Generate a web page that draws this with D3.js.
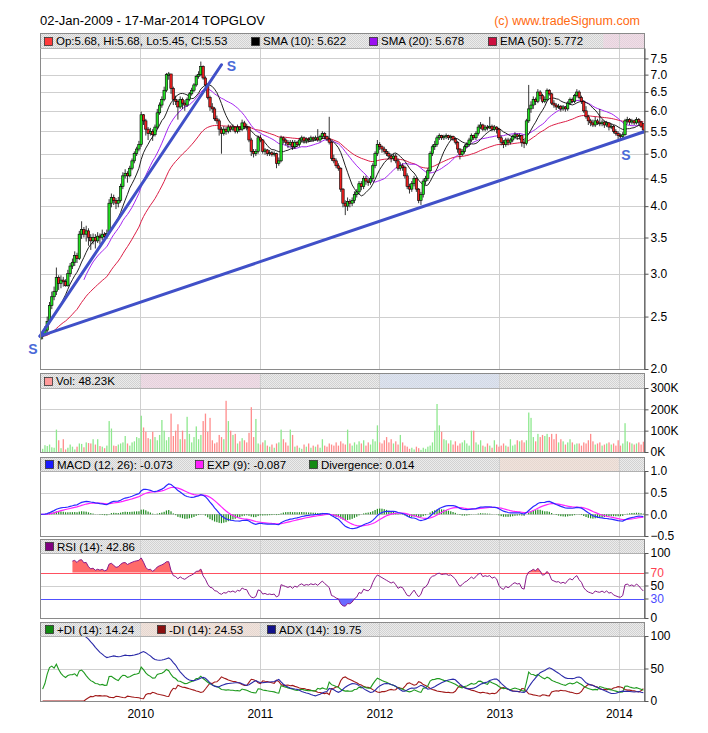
<!DOCTYPE html>
<html>
<head>
<meta charset="utf-8">
<script src="https://cdn.jsdelivr.net/npm/d3@7"></script>
<style>
body { margin: 0; background: #fff; }
svg { display: block; font-family: "Liberation Sans", Arial, sans-serif; }
</style>
</head>
<body>
<div id="chart"></div>
<script>
// weekly candles TOPGLOV, Mar 2009 - Mar 2014
const opens = [
 2.27,2.30,2.32,2.36,2.45,2.62,2.72,2.78,2.95,2.88, 2.92,2.90,2.85,3.00,3.10,3.15,3.24,3.20,3.55,3.62,
 3.55,3.60,3.50,3.45,3.50,3.45,3.52,3.50,3.55,3.52, 3.58,4.05,4.15,4.10,4.05,4.10,4.35,4.55,4.60,4.55,
 4.70,4.85,5.00,5.10,5.20,5.90,5.75,5.55,5.45,5.50, 5.42,5.60,5.95,6.15,6.30,6.55,6.98,7.02,6.60,6.30,
 6.25,6.10,6.30,6.20,6.15,6.30,6.45,6.55,6.70,6.95, 7.00,7.25,6.90,6.70,6.35,6.10,6.05,5.80,5.75,5.55,
 5.45,5.55,5.50,5.60,5.55,5.60,5.50,5.60,5.55,5.70, 5.62,5.60,5.30,5.05,5.00,5.05,5.35,5.30,5.05,5.08,
 5.00,5.02,4.98,5.00,4.80,4.85,5.35,5.30,5.25,5.20, 5.25,5.15,5.25,5.20,5.30,5.35,5.28,5.32,5.30,5.35,
 5.32,5.35,5.30,5.38,5.45,5.38,5.32,5.25,4.90,4.85, 4.75,4.70,4.30,4.05,4.00,4.08,4.05,4.10,4.20,4.25,
 4.40,4.35,4.50,4.45,4.42,4.50,4.75,5.00,5.20,5.15, 5.10,5.05,5.00,4.95,4.90,4.95,4.85,4.70,4.75,4.72,
 4.55,4.35,4.30,4.40,4.50,4.30,4.10,4.20,4.45,4.50, 4.65,5.00,5.15,5.20,5.35,5.40,5.35,5.38,5.40,5.35,
 5.38,5.32,5.25,5.10,4.98,5.05,5.15,5.20,5.30,5.40, 5.35,5.45,5.60,5.65,5.55,5.60,5.58,5.62,5.55,5.60,
 5.55,5.35,5.25,5.20,5.30,5.25,5.30,5.38,5.42,5.38, 5.40,5.25,5.22,5.75,6.05,6.15,6.30,6.25,6.50,6.40,
 6.25,6.30,6.55,6.45,6.20,6.15,6.10,6.12,6.05,6.10, 6.05,6.20,6.30,6.25,6.40,6.50,6.35,6.25,6.00,5.85,
 5.75,5.70,5.65,5.75,5.70,5.68,5.72,5.65,5.70,5.60, 5.62,5.50,5.45,5.40,5.38,5.42,5.75,5.78,5.72,5.75,
 5.70,5.78,5.72,5.68
];
const highs = [
 2.33,2.36,2.40,2.50,2.66,2.78,2.84,3.08,2.98,2.98, 2.96,2.93,3.05,3.14,3.20,3.30,3.28,3.60,3.75,3.66,
 3.68,3.64,3.55,3.56,3.55,3.58,3.56,3.62,3.58,3.62, 4.12,4.22,4.20,4.14,4.16,4.40,4.62,4.68,4.64,4.75,
 4.90,5.05,5.15,5.28,5.98,5.92,5.80,5.60,5.58,5.55, 5.66,6.05,6.22,6.38,6.65,7.05,7.08,7.02,6.65,6.40,
 6.30,6.38,6.35,6.28,6.35,6.50,6.62,6.75,7.00,7.10, 7.40,7.28,6.95,6.75,6.40,6.20,6.10,5.88,5.80,5.60,
 5.62,5.60,5.66,5.64,5.66,5.62,5.66,5.62,5.78,5.75, 5.68,5.62,5.35,5.10,5.10,5.40,5.42,5.32,5.12,5.10,
 5.08,5.06,5.05,5.02,4.92,5.40,5.38,5.34,5.30,5.30, 5.30,5.30,5.28,5.35,5.40,5.38,5.36,5.36,5.40,5.38,
 5.40,5.55,5.42,5.50,5.48,5.40,5.85,5.28,4.98,4.90, 4.80,4.72,4.32,4.10,4.15,4.12,4.15,4.26,4.30,4.45,
 4.45,4.55,4.55,4.50,4.55,4.80,5.05,5.30,5.25,5.18, 5.15,5.10,5.05,5.00,5.00,5.00,4.90,4.82,4.80,4.75,
 4.60,4.40,4.45,4.55,4.52,4.32,4.25,4.50,4.55,4.70, 5.05,5.20,5.28,5.40,5.45,5.42,5.42,5.45,5.42,5.42,
 5.40,5.36,5.28,5.12,5.10,5.20,5.25,5.35,5.45,5.42, 5.50,5.66,5.72,5.68,5.65,5.65,5.85,5.66,5.65,5.62,
 5.58,5.40,5.30,5.35,5.35,5.35,5.42,5.48,5.45,5.45, 5.42,5.30,5.80,6.70,6.25,6.38,6.35,6.58,6.55,6.45,
 6.38,6.60,6.58,6.48,6.28,6.20,6.18,6.15,6.15,6.12, 6.25,6.35,6.35,6.45,6.58,6.55,6.40,6.28,6.12,5.90,
 5.80,5.78,5.85,5.80,6.05,5.78,5.75,5.75,5.72,5.68, 5.65,5.55,5.50,5.45,5.48,5.80,5.85,5.82,5.80,5.78,
 5.84,5.82,5.75,5.68
];
const lows = [
 2.25,2.27,2.30,2.34,2.42,2.58,2.68,2.74,2.80,2.82, 2.84,2.84,2.84,2.96,3.06,3.10,3.14,3.18,3.48,3.50,
 3.44,3.38,3.32,3.40,3.34,3.42,3.40,3.46,3.44,3.48, 3.55,3.98,4.02,3.95,3.98,4.06,4.30,4.50,4.42,4.52,
 4.66,4.80,4.95,5.05,5.15,5.65,5.40,5.30,5.40,5.28, 5.38,5.55,5.90,6.08,6.25,6.50,6.85,6.45,6.15,6.15,
 5.78,6.05,6.05,6.00,6.10,6.25,6.40,6.50,6.65,6.88, 6.95,6.85,6.60,6.30,6.00,5.95,5.75,5.68,5.40,5.00,
 5.40,5.42,5.45,5.48,5.50,5.45,5.45,5.48,5.50,5.55, 5.52,5.25,4.95,4.92,4.95,5.00,5.25,5.00,4.98,4.95,
 4.95,4.94,4.94,4.70,4.75,4.82,5.22,5.18,5.12,5.15, 5.08,5.10,5.15,5.15,5.25,5.22,5.22,5.25,5.26,5.26,
 5.28,5.26,5.25,5.32,5.32,5.28,5.20,4.85,4.80,4.70, 4.65,4.25,3.98,3.85,3.92,3.98,4.00,4.05,4.15,4.20,
 4.28,4.30,4.38,4.36,4.38,4.45,4.70,4.95,5.08,5.02, 5.00,4.95,4.88,4.82,4.85,4.80,4.65,4.65,4.65,4.50,
 4.30,4.22,4.25,4.35,4.25,4.05,4.02,4.15,4.38,4.45, 4.62,4.95,5.08,5.15,5.30,5.30,5.30,5.32,5.30,5.30,
 5.28,5.20,5.02,4.88,4.95,5.00,5.12,5.15,5.25,5.30, 5.30,5.40,5.55,5.50,5.50,5.52,5.55,5.50,5.50,5.45,
 5.30,5.18,5.12,5.15,5.18,5.20,5.25,5.32,5.30,5.32, 5.15,5.12,5.18,5.70,5.95,6.05,6.15,6.20,6.30,6.20,
 6.20,6.25,6.40,6.15,6.08,6.02,6.05,5.98,6.00,5.98, 6.00,6.15,6.20,6.20,6.35,6.30,6.18,5.95,5.80,5.65,
 5.62,5.60,5.60,5.65,5.62,5.62,5.58,5.60,5.52,5.55, 5.45,5.40,5.32,5.30,5.32,5.40,5.68,5.65,5.66,5.65,
 5.66,5.65,5.58,5.45
];
const closes = [
 2.30,2.32,2.36,2.45,2.62,2.72,2.78,2.95,2.88,2.92, 2.90,2.85,3.00,3.10,3.15,3.24,3.20,3.55,3.62,3.55,
 3.60,3.50,3.45,3.50,3.45,3.52,3.50,3.55,3.52,3.56, 4.05,4.15,4.10,4.05,4.10,4.35,4.55,4.60,4.55,4.70,
 4.85,5.00,5.10,5.20,5.90,5.75,5.55,5.45,5.50,5.42, 5.60,5.95,6.15,6.30,6.55,7.00,7.02,6.60,6.30,6.25,
 6.10,6.30,6.20,6.15,6.30,6.45,6.55,6.70,6.95,7.00, 7.25,6.90,6.70,6.35,6.10,6.05,5.80,5.75,5.55,5.45,
 5.55,5.50,5.60,5.55,5.60,5.50,5.60,5.55,5.70,5.62, 5.60,5.30,5.05,5.00,5.05,5.35,5.30,5.05,5.08,5.00,
 5.02,4.98,5.00,4.80,4.85,5.35,5.30,5.25,5.20,5.25, 5.15,5.25,5.20,5.30,5.35,5.28,5.32,5.30,5.35,5.32,
 5.35,5.30,5.38,5.45,5.38,5.32,5.25,4.90,4.85,4.75, 4.70,4.30,4.05,4.00,4.08,4.05,4.10,4.20,4.25,4.40,
 4.35,4.50,4.45,4.42,4.50,4.75,5.00,5.20,5.15,5.10, 5.05,5.00,4.95,4.90,4.95,4.85,4.70,4.75,4.72,4.55,
 4.35,4.30,4.40,4.50,4.30,4.10,4.20,4.45,4.50,4.65, 5.00,5.15,5.20,5.35,5.40,5.35,5.38,5.40,5.35,5.38,
 5.32,5.25,5.10,4.98,5.05,5.15,5.20,5.30,5.40,5.35, 5.45,5.60,5.65,5.55,5.60,5.58,5.62,5.55,5.60,5.55,
 5.35,5.25,5.20,5.30,5.25,5.30,5.38,5.42,5.38,5.40, 5.25,5.22,5.75,6.05,6.15,6.30,6.25,6.50,6.40,6.25,
 6.30,6.55,6.45,6.20,6.15,6.10,6.12,6.05,6.10,6.05, 6.20,6.30,6.25,6.40,6.50,6.35,6.25,6.00,5.85,5.75,
 5.70,5.65,5.75,5.70,5.68,5.72,5.65,5.70,5.60,5.62, 5.50,5.45,5.40,5.38,5.42,5.75,5.78,5.72,5.75,5.70,
 5.78,5.72,5.62,5.53
];
// weekly volume, thousands
const volumes = [
 18,15,32,28,35,22,20,105,55,18, 60,12,20,35,25,12,25,40,38,22,
 45,42,40,60,35,60,28,25,18,30, 145,110,30,28,35,40,45,75,40,30,
 45,50,70,65,170,115,95,65,60,95, 70,55,80,150,100,55,70,180,75,100,
 130,60,100,60,165,85,45,70,120,60, 80,145,180,95,160,55,40,45,80,70,
 60,240,145,100,80,85,40,50,65,55, 45,90,210,70,155,40,35,45,55,30,
 25,35,20,40,45,105,60,45,30,105, 80,25,30,20,15,35,25,40,20,30,
 25,35,20,60,30,25,40,35,30,45, 30,50,40,35,105,40,30,45,35,50,
 40,55,30,45,35,60,50,125,45,40, 55,70,45,60,40,50,35,80,45,30,
 25,15,20,12,25,18,10,20,15,25, 30,45,100,225,125,95,60,55,40,55,
 35,50,30,40,45,55,40,30,100,100, 45,35,55,30,25,40,30,20,55,35,
 25,30,40,30,25,60,30,35,55,50, 55,45,55,185,160,70,50,85,70,80,
 75,85,70,85,60,85,45,60,50,35, 45,60,45,35,40,40,30,45,40,55,
 85,50,35,40,45,30,35,40,45,35, 40,30,55,30,40,135,50,45,40,35,
 40,45,35,48.23
];

// support lines drawn on the price chart: [date, price]
const supportStart = [new Date(2009, 2, 1), 2.30];
const supportSteepEnd = [new Date(2010, 8, 6), 7.30];
const supportLongEnd = [new Date(2014, 2, 19), 5.49];

// tick labels
const priceTicks = [2.0, 2.5, 3.0, 3.5, 4.0, 4.5, 5.0, 5.5, 6.0, 6.5, 7.0, 7.5];
const volTicks = [0, 100, 200, 300];
const macdTicks = [-0.5, 0.0, 0.5, 1.0];
const rsiTicks = [0, 30, 50, 70, 100];
const dmiTicks = [0, 50, 100];
const yearTicks = [2010, 2011, 2012, 2013, 2014].map(y => new Date(y, 0, 1));

const width = 708, height = 733;
const left = 40, right = 644;

const dates = d3.timeMonday.range(new Date(2009, 2, 2), new Date(2014, 2, 18)).slice(0, closes.length);
const idx = d3.range(dates.length);

const svg = d3.select("#chart").append("svg")
    .attr("width", width)
    .attr("height", height);

const defs = svg.append("defs");
const hatch = defs.append("pattern")
    .attr("id", "hatch")
    .attr("width", 2).attr("height", 2)
    .attr("patternUnits", "userSpaceOnUse");
hatch.append("rect").attr("width", 2).attr("height", 2).attr("fill", "#ececec");
hatch.append("rect").attr("width", 1).attr("height", 1).attr("fill", "#d2d2d2");
hatch.append("rect").attr("x", 1).attr("y", 1).attr("width", 1).attr("height", 1).attr("fill", "#d2d2d2");

const x = d3.scaleTime()
    .domain([new Date(2009, 2, 1), new Date(2014, 2, 19)])
    .range([left, right]);

// panels: legend band top, plot top, plot bottom
const panels = [
    {id: "main", band: 33, top: 48, bottom: 369},
    {id: "vol", band: 373, top: 388, bottom: 452},
    {id: "macd", band: 457, top: 471, bottom: 536},
    {id: "rsi", band: 539, top: 553, bottom: 618},
    {id: "dmi", band: 622, top: 636, bottom: 701}
];

const bandTints = [
    {panel: 0, from: new Date(2013, 10, 15), to: new Date(2014, 2, 19), color: "#f4d2e4"},
    {panel: 1, from: new Date(2010, 0, 1), to: new Date(2011, 0, 1), color: "#f4d2e4"},
    {panel: 1, from: new Date(2012, 0, 1), to: new Date(2013, 0, 1), color: "#d4def4"},
    {panel: 2, from: new Date(2013, 0, 1), to: new Date(2014, 0, 1), color: "#f6dcd0"},
    {panel: 4, from: new Date(2010, 0, 1), to: new Date(2011, 0, 1), color: "#f6dcd0"}
];

const yP = d3.scaleLog().domain([2.0, 7.84]).range([369, 48]);
const yV = d3.scaleLinear().domain([0, 300]).range([452, 388]);
const yM = d3.scaleLinear().domain([-0.5, 1.0]).range([536, 471]);
const yR = d3.scaleLinear().domain([0, 100]).range([618, 553]);
const yD = d3.scaleLinear().domain([0, 100]).range([701, 636]);

// ---------- indicators ----------
function sma(arr, n) {
    return arr.map((v, i) => i < n - 1 ? null : d3.mean(arr.slice(i - n + 1, i + 1)));
}
function ema(arr, n) {
    const k = 2 / (n + 1);
    const out = [];
    arr.forEach((v, i) => out.push(i === 0 ? v : out[i - 1] + k * (v - out[i - 1])));
    return out;
}
function rsi(c, n) {
    const out = c.map(() => null);
    let g = 0, l = 0;
    for (let i = 1; i <= n; i++) {
        const d = c[i] - c[i - 1];
        if (d > 0) g += d; else l -= d;
    }
    g /= n; l /= n;
    out[n] = l === 0 ? 100 : 100 - 100 / (1 + g / l);
    for (let i = n + 1; i < c.length; i++) {
        const d = c[i] - c[i - 1];
        g = (g * (n - 1) + Math.max(d, 0)) / n;
        l = (l * (n - 1) + Math.max(-d, 0)) / n;
        out[i] = l === 0 ? 100 : 100 - 100 / (1 + g / l);
    }
    return out;
}
function dmi(h, l, c, n) {
    let sTr = h[0] - l[0], sP = 0, sM = 0, a = null;
    const pdi = [null], mdi = [null], adx = [null];
    for (let i = 1; i < h.length; i++) {
        const up = h[i] - h[i - 1], dn = l[i - 1] - l[i];
        const p = up > dn && up > 0 ? up : 0;
        const m = dn > up && dn > 0 ? dn : 0;
        const tr = Math.max(h[i] - l[i], Math.abs(h[i] - c[i - 1]), Math.abs(l[i] - c[i - 1]));
        sTr = sTr - sTr / n + tr;
        sP = sP - sP / n + p;
        sM = sM - sM / n + m;
        const pd = 100 * sP / sTr, md = 100 * sM / sTr;
        const dx = pd + md === 0 ? 0 : 100 * Math.abs(pd - md) / (pd + md);
        a = a === null ? dx : a + (dx - a) * 2 / (n + 1);
        pdi.push(pd); mdi.push(md); adx.push(a);
    }
    return {pdi, mdi, adx};
}

const sma10 = sma(closes, 10);
const sma20 = sma(closes, 20);
const ema50 = ema(closes, 50);
const ema12 = ema(closes, 12), ema26 = ema(closes, 26);
const macd = closes.map((c, i) => ema12[i] - ema26[i]);
const signal = ema(macd, 9);
const hist = macd.map((m, i) => m - signal[i]);
const rsi14 = rsi(closes, 14);
const dm = dmi(highs, lows, closes, 14);

// ---------- panel frames, bands, grids ----------
panels.forEach((p, pi) => {
    defs.append("clipPath").attr("id", "clip-" + p.id)
        .append("rect")
        .attr("x", left).attr("y", p.top)
        .attr("width", right - left).attr("height", p.bottom - p.top);

    svg.append("rect")
        .attr("x", left).attr("y", p.band)
        .attr("width", right - left).attr("height", p.top - p.band)
        .attr("fill", "url(#hatch)");

    bandTints.filter(t => t.panel === pi).forEach(t => {
        svg.append("rect")
            .attr("x", x(t.from)).attr("y", p.band)
            .attr("width", x(t.to) - x(t.from)).attr("height", p.top - p.band)
            .attr("fill", t.color).attr("opacity", 0.55);
    });

    svg.append("g")
        .selectAll("line")
        .data(yearTicks)
        .join("line")
        .attr("x1", d => Math.round(x(d)) + 0.5).attr("x2", d => Math.round(x(d)) + 0.5)
        .attr("y1", p.band).attr("y2", p.bottom)
        .attr("stroke", "#cfcfcf");
});

function hGrid(scale, ticks, skip) {
    svg.append("g")
        .selectAll("line")
        .data(ticks.filter(t => !(skip || []).includes(t)))
        .join("line")
        .attr("x1", left).attr("x2", right)
        .attr("y1", d => Math.round(scale(d)) + 0.5).attr("y2", d => Math.round(scale(d)) + 0.5)
        .attr("stroke", "#cfcfcf");
}
hGrid(yP, priceTicks);
hGrid(yV, volTicks);
hGrid(yM, macdTicks);
hGrid(yR, rsiTicks, [30, 70]);
hGrid(yD, dmiTicks);

// ---------- price panel ----------
const gMain = svg.append("g").attr("clip-path", "url(#clip-main)");

const lineOf = (scale, arr) => d3.line()
    .defined(i => arr[i] !== null)
    .x(i => x(dates[i]))
    .y(i => scale(arr[i]));

[[ema50, "#dc1e46"], [sma20, "#a526f2"], [sma10, "#222"]].forEach(([arr, col]) => {
    gMain.append("path")
        .attr("d", lineOf(yP, arr)(idx))
        .attr("fill", "none").attr("stroke", col).attr("stroke-width", 1);
});

gMain.append("g")
    .selectAll("line")
    .data(idx)
    .join("line")
    .attr("x1", i => x(dates[i])).attr("x2", i => x(dates[i]))
    .attr("y1", i => yP(highs[i])).attr("y2", i => yP(lows[i]))
    .attr("stroke", "#000").attr("stroke-width", 0.8);

gMain.append("g")
    .selectAll("rect")
    .data(idx)
    .join("rect")
    .attr("x", i => x(dates[i]) - 1.2)
    .attr("width", 2.4)
    .attr("y", i => yP(Math.max(opens[i], closes[i])))
    .attr("height", i => Math.max(1, Math.abs(yP(opens[i]) - yP(closes[i]))))
    .attr("fill", i => closes[i] >= opens[i] ? "#22e022" : "#ee2020")
    .attr("stroke", "#000").attr("stroke-width", 0.6);

const trend = d3.line().x(d => x(d[0])).y(d => yP(d[1]));
[[supportStart, supportSteepEnd], [supportStart, supportLongEnd]].forEach(seg => {
    svg.append("path")
        .attr("d", trend(seg))
        .attr("fill", "none").attr("stroke", "#4050c8").attr("stroke-width", 3)
        .attr("stroke-linecap", "round");
});

const sLabels = [
    {x: x(supportStart[0]) - 7, y: yP(supportStart[1]) + 18},
    {x: x(supportSteepEnd[0]) + 10, y: yP(supportSteepEnd[1]) + 6},
    {x: x(supportLongEnd[0]) - 18, y: yP(supportLongEnd[1]) + 28}
];
svg.append("g")
    .selectAll("text")
    .data(sLabels)
    .join("text")
    .attr("x", d => d.x).attr("y", d => d.y)
    .attr("text-anchor", "middle")
    .attr("font-size", 14).attr("font-weight", "bold")
    .attr("fill", "#4a6ad8")
    .text("S");

// ---------- volume panel ----------
const barColor = i => closes[i] > opens[i] ? "#8ee88e" : closes[i] < opens[i] ? "#ff8c8c" : "#b0b0b0";
svg.append("g").attr("clip-path", "url(#clip-vol)")
    .selectAll("rect")
    .data(idx)
    .join("rect")
    .attr("x", i => x(dates[i]) - 0.6)
    .attr("width", 1.3)
    .attr("y", i => yV(volumes[i]))
    .attr("height", i => yV(0) - yV(volumes[i]))
    .attr("fill", barColor);

// ---------- MACD panel ----------
const gMacd = svg.append("g").attr("clip-path", "url(#clip-macd)");
gMacd.append("g")
    .selectAll("rect")
    .data(idx)
    .join("rect")
    .attr("x", i => x(dates[i]) - 0.6)
    .attr("width", 1.2)
    .attr("y", i => Math.min(yM(0), yM(hist[i])))
    .attr("height", i => Math.abs(yM(hist[i]) - yM(0)))
    .attr("fill", "#1f8a1f");
gMacd.append("path").attr("d", lineOf(yM, signal)(idx))
    .attr("fill", "none").attr("stroke", "#ff22ff").attr("stroke-width", 1.2);
gMacd.append("path").attr("d", lineOf(yM, macd)(idx))
    .attr("fill", "none").attr("stroke", "#2a2aff").attr("stroke-width", 1.2);

// ---------- RSI panel ----------
const gRsi = svg.append("g").attr("clip-path", "url(#clip-rsi)");
const rsiIdx = idx.filter(i => rsi14[i] !== null);
gRsi.append("path")
    .attr("d", d3.area().x(i => x(dates[i])).y0(yR(70)).y1(i => yR(Math.max(rsi14[i], 70)))(rsiIdx))
    .attr("fill", "#ff6a6a");
gRsi.append("path")
    .attr("d", d3.area().x(i => x(dates[i])).y0(yR(30)).y1(i => yR(Math.min(rsi14[i], 30)))(rsiIdx))
    .attr("fill", "#6a6aff");
gRsi.append("line")
    .attr("x1", left).attr("x2", right)
    .attr("y1", Math.round(yR(70)) + 0.5).attr("y2", Math.round(yR(70)) + 0.5)
    .attr("stroke", "#ff5060");
gRsi.append("line")
    .attr("x1", left).attr("x2", right)
    .attr("y1", Math.round(yR(30)) + 0.5).attr("y2", Math.round(yR(30)) + 0.5)
    .attr("stroke", "#5050ff");
gRsi.append("path").attr("d", lineOf(yR, rsi14)(idx))
    .attr("fill", "none").attr("stroke", "#8a1a8a").attr("stroke-width", 1);

// ---------- DMI panel ----------
const gDmi = svg.append("g").attr("clip-path", "url(#clip-dmi)");
[[dm.mdi, "#a01818"], [dm.pdi, "#1f9a1f"], [dm.adx, "#2a2aa8"]].forEach(([arr, col]) => {
    gDmi.append("path").attr("d", lineOf(yD, arr)(idx))
        .attr("fill", "none").attr("stroke", col).attr("stroke-width", 1.1);
});

// ---------- frames and axes ----------
panels.forEach(p => {
    svg.append("rect")
        .attr("x", left + 0.5).attr("y", p.band + 0.5)
        .attr("width", right - left).attr("height", p.bottom - p.band)
        .attr("fill", "none").attr("stroke", "#8a8a8a");
    svg.append("line")
        .attr("x1", left).attr("x2", right)
        .attr("y1", p.top + 0.5).attr("y2", p.top + 0.5)
        .attr("stroke", "#b0b0b0");
});

function rightAxis(scale, ticks, fmt, colorFor) {
    const g = svg.append("g")
        .attr("transform", `translate(${right + 0.5},0)`)
        .call(d3.axisRight(scale).tickValues(ticks).tickFormat(fmt).tickSize(4).tickSizeOuter(0).tickPadding(2));
    g.select(".domain").attr("stroke", "#555");
    g.selectAll(".tick line").attr("stroke", "#555");
    g.selectAll(".tick text")
        .attr("font-family", "'Liberation Sans', Arial, sans-serif")
        .attr("font-size", 12)
        .attr("fill", d => colorFor ? colorFor(d) : "#000");
}
rightAxis(yP, priceTicks, d3.format(".1f"));
rightAxis(yV, volTicks, d => d + "K");
rightAxis(yM, macdTicks, d3.format(".1f"));
rightAxis(yR, rsiTicks, d => d, d => d === 70 ? "#ff4050" : d === 30 ? "#4a4aff" : "#000");
rightAxis(yD, dmiTicks, d => d);

const xAxis = svg.append("g")
    .attr("transform", "translate(0,701)")
    .call(d3.axisBottom(x).tickValues(yearTicks).tickFormat(d3.timeFormat("%Y")).tickSize(0).tickPadding(8));
xAxis.select(".domain").remove();
xAxis.selectAll(".tick text")
    .attr("font-family", "'Liberation Sans', Arial, sans-serif")
    .attr("font-size", 12).attr("fill", "#000");

// ---------- titles and legends ----------
svg.append("text")
    .attr("x", 40).attr("y", 25)
    .attr("font-size", 13).attr("fill", "#000")
    .text("02-Jan-2009 - 17-Mar-2014 TOPGLOV");
svg.append("text")
    .attr("x", 640).attr("y", 25)
    .attr("text-anchor", "end")
    .attr("font-size", 12.5).attr("fill", "#ff6a10")
    .text("(c) www.tradeSignum.com");

const legends = [
    {panel: 0, items: [
        {x: 44, color: "#ff3a3a", text: "Op:5.68, Hi:5.68, Lo:5.45, Cl:5.53"},
        {x: 251, color: "#000", text: "SMA (10): 5.622"},
        {x: 369, color: "#9a10f0", text: "SMA (20): 5.678"},
        {x: 488, color: "#cc1040", text: "EMA (50): 5.772"}]},
    {panel: 1, items: [{x: 44, color: "#ff9a9a", text: "Vol: 48.23K"}]},
    {panel: 2, items: [
        {x: 45, color: "#1a1aff", text: "MACD (12, 26): -0.073"},
        {x: 195, color: "#ff20ff", text: "EXP (9): -0.087"},
        {x: 309, color: "#128a12", text: "Divergence: 0.014"}]},
    {panel: 3, items: [{x: 45, color: "#800080", text: "RSI (14): 42.86"}]},
    {panel: 4, items: [
        {x: 45, color: "#128a12", text: "+DI (14): 14.24"},
        {x: 157, color: "#8a1010", text: "-DI (14): 24.53"},
        {x: 267, color: "#12128a", text: "ADX (14): 19.75"}]}
];
legends.forEach(l => {
    const p = panels[l.panel];
    const mid = (p.band + p.top) / 2;
    const g = svg.append("g");
    g.selectAll("rect")
        .data(l.items)
        .join("rect")
        .attr("x", d => d.x + 0.5).attr("y", Math.round(mid - 4) + 0.5)
        .attr("width", 8).attr("height", 8)
        .attr("fill", d => d.color).attr("stroke", "#333").attr("stroke-width", 0.8);
    g.selectAll("text")
        .data(l.items)
        .join("text")
        .attr("x", d => d.x + 12).attr("y", mid + 4.5)
        .attr("font-size", 11.5).attr("fill", "#000")
        .text(d => d.text);
});
</script>
</body>
</html>
